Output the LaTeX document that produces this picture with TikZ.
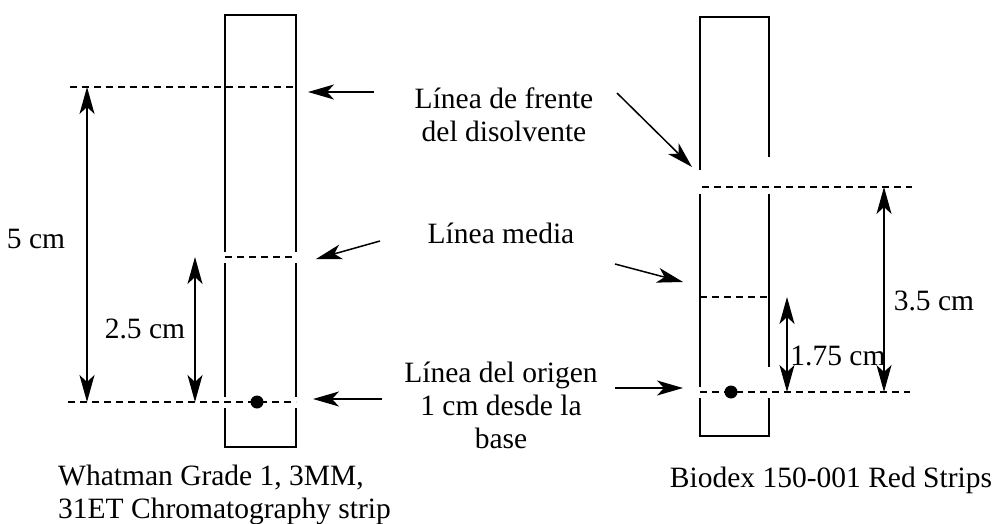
\documentclass[tikz,border=0pt]{standalone}
\usepackage{fontspec}
\setmainfont{Liberation Serif}
\usetikzlibrary{arrows.meta}
\tikzset{
  strip/.style={line width=1.3pt, line cap=butt},
  dline/.style={line width=1.2pt, dash pattern=on 7pt off 5pt},
  dimarrow/.style={line width=1.3pt, {Stealth[length=27pt,width=15pt,inset=7pt]}-{Stealth[length=27pt,width=15pt,inset=7pt]}},
  ptr/.style={line width=1.5pt, -{Stealth[length=26pt,width=15pt,inset=7pt]}},
  lbl/.style={font=\fontsize{29.5}{33}\selectfont, inner sep=0pt, align=center},
  dotmark/.style={circle, fill=black, inner sep=0pt, minimum size=13pt}
}
\begin{document}
\begin{tikzpicture}[x=1pt,y=-1pt]
\useasboundingbox (0,0) rectangle (993,524);
% ---------- left strip ----------
\draw[strip] (225,252) -- (225,15) -- (296,15) -- (296,252);
\draw[strip] (225,263) -- (225,397);
\draw[strip] (296,263) -- (296,397);
\draw[strip] (225,408) -- (225,447) -- (296,447) -- (296,408);
\coordinate (Lf1) at (70,87);  \coordinate (Lf2) at (296,87);
\coordinate (Lm1) at (225,257); \coordinate (Lm2) at (296,257);
\coordinate (Lo1) at (68,402); \coordinate (Lo2) at (296,402);
\draw[dline] (Lf1) -- (Lf2);
\draw[dline] (Lm1) -- (Lm2);
\draw[dline] (Lo1) -- (Lo2);
\coordinate (A5t) at (87,87); \coordinate (A5b) at (87,402);
\coordinate (A25t) at (195,257); \coordinate (A25b) at (195,402);
\draw[dimarrow] (A5t) -- (A5b);
\draw[dimarrow] (A25t) -- (A25b);
\node[dotmark] (ldot) at (257,402) {};
\node[lbl, anchor=base] (l5) at (36,248) {5 cm};
\node[lbl, anchor=base] (l25) at (145,338) {2.5 cm};
% ---------- right strip ----------
\draw[strip] (700,170) -- (700,17) -- (769,17) -- (769,157);
\draw[strip] (700,194) -- (700,387);
\draw[strip] (769,194) -- (769,367);
\draw[strip] (700,398) -- (700,436) -- (769,436) -- (769,398);
\coordinate (Rf1) at (702,187); \coordinate (Rf2) at (912,187);
\coordinate (Rm1) at (700,297); \coordinate (Rm2) at (769,297);
\coordinate (Ro1) at (700,392); \coordinate (Ro2) at (910,392);
\draw[dline] (Rf1) -- (Rf2);
\draw[dline] (Rm1) -- (Rm2);
\draw[dline] (Ro1) -- (Ro2);
\coordinate (A35t) at (884,187); \coordinate (A35b) at (884,392);
\coordinate (A175t) at (787,297); \coordinate (A175b) at (787,392);
\draw[dimarrow] (A35t) -- (A35b);
\draw[dimarrow] (A175t) -- (A175b);
\node[dotmark] (rdot) at (731,392) {};
\node[lbl, anchor=base] (l35) at (934,310) {3.5 cm};
\node[lbl, anchor=base] (l175) at (838,365) {1.75 cm};
% ---------- middle labels ----------
\node[lbl, anchor=base] (front) at (504,142) {Línea de frente\\del disolvente};
\node[lbl, anchor=base] (media) at (501,243) {Línea media};
\node[lbl, anchor=base] (origen) at (501,448) {Línea del origen\\1 cm desde la\\base};
% pointer arrows
\coordinate (p1s) at (374,92);  \coordinate (p1e) at (308,92);
\coordinate (p2s) at (380,241); \coordinate (p2e) at (316,259);
\coordinate (p3s) at (382,399); \coordinate (p3e) at (313,399);
\coordinate (p4s) at (617,93);  \coordinate (p4e) at (692,167);
\coordinate (p5s) at (615,264); \coordinate (p5e) at (683,282);
\coordinate (p6s) at (615,388); \coordinate (p6e) at (683,388);
\draw[ptr] (p1s) -- (p1e);
\draw[ptr] (p2s) -- (p2e);
\draw[ptr] (p3s) -- (p3e);
\draw[ptr] (p4s) -- (p4e);
\draw[ptr] (p5s) -- (p5e);
\draw[ptr] (p6s) -- (p6e);
% ---------- captions ----------
\node[lbl, align=left, anchor=base west] (capL) at (58,518) {Whatman Grade 1, 3MM,\\31ET Chromatography strip};
\node[lbl, anchor=base] (capR) at (831,487) {Biodex 150-001 Red Strips};
\end{tikzpicture}
\end{document}
